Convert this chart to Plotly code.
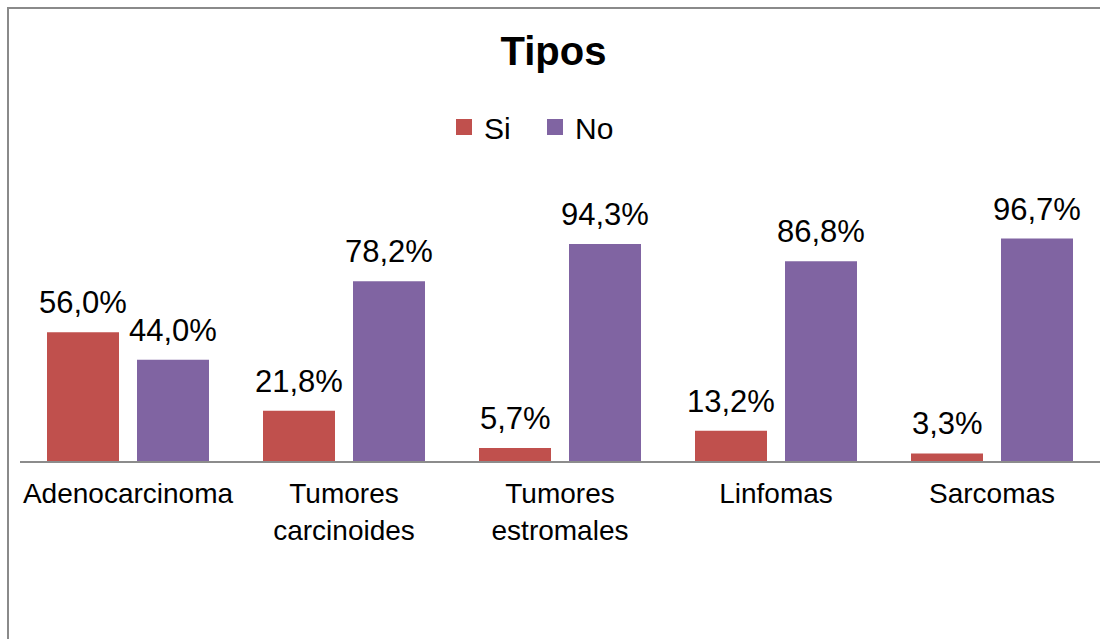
import plotly.graph_objects as go

categories = ["Adenocarcinoma", "Tumores<br>carcinoides", "Tumores<br>estromales", "Linfomas", "Sarcomas"]
si_values = [56.0, 21.8, 5.7, 13.2, 3.3]
no_values = [44.0, 78.2, 94.3, 86.8, 96.7]
series_names = ["Si", "No"]
colors = ["#C0504D", "#8064A2"]

W, H = 1100, 639
ml, mr, mt, mb = 20, 0, 231, 178
PW, PH = W - ml - mr, H - mt - mb

fig = go.Figure()
for name, vals, col in zip(series_names, [si_values, no_values], colors):
    fig.add_trace(go.Bar(x=categories, y=vals, name=name, marker=dict(color=col, line=dict(width=0)),
                         showlegend=False))
    fig.add_trace(go.Scatter(x=[None], y=[None], mode="markers", name=name,
                             marker=dict(symbol="square", size=16, color=col)))

def fmt(v):
    return f"{v:.1f}".replace(".", ",") + "%"

for vals, shift in [(si_values, -45), (no_values, 45)]:
    for c, v in zip(categories, vals):
        fig.add_annotation(x=c, y=v, xref="x", yref="y", text=fmt(v), showarrow=False,
                           xshift=shift, yshift=10, yanchor="bottom",
                           font=dict(family="Liberation Sans, Arial", size=31, color="black"))

# outer chart border (only left and top edges visible)
border = dict(color="#8a8a8a", width=2)
fig.add_shape(type="line", xref="paper", yref="paper",
              x0=(8 - ml) / PW, x1=(8 - ml) / PW, y0=(H - mb - 8) / PH, y1=(H - mb - 639) / PH, line=border)
fig.add_shape(type="line", xref="paper", yref="paper",
              x0=(7 - ml) / PW, x1=(1100 - ml) / PW, y0=(H - mb - 8) / PH, y1=(H - mb - 8) / PH, line=border)

fig.update_layout(
    width=W, height=H,
    margin=dict(l=ml, r=mr, t=mt, b=mb),
    paper_bgcolor="white", plot_bgcolor="white",
    barmode="group", bargap=0.1667, bargroupgap=0.2,
    font=dict(family="Liberation Sans, Arial", color="black"),
    title=dict(text="<b>Tipos</b>", x=553.5 / W, xanchor="center", y=1 - 51 / H, yanchor="middle",
               xref="container", yref="container",
               font=dict(family="Liberation Sans, Arial", size=40, color="black")),
    legend=dict(orientation="h", x=(535 - ml) / PW, xanchor="center",
                y=(461 - 127) / PH, yanchor="middle", entrywidth=46, entrywidthmode="pixels",
                font=dict(size=30, color="black"), itemsizing="trace"),
    xaxis=dict(showline=True, linecolor="#8c8c8c", linewidth=1.5, ticks="", showgrid=False,
               tickfont=dict(size=28, color="black"), ticklabelstandoff=7),
    yaxis=dict(range=[0, 100], visible=False, showgrid=False, zeroline=False),
)

fig.write_html("out.html", config={"displayModeBar": False})
